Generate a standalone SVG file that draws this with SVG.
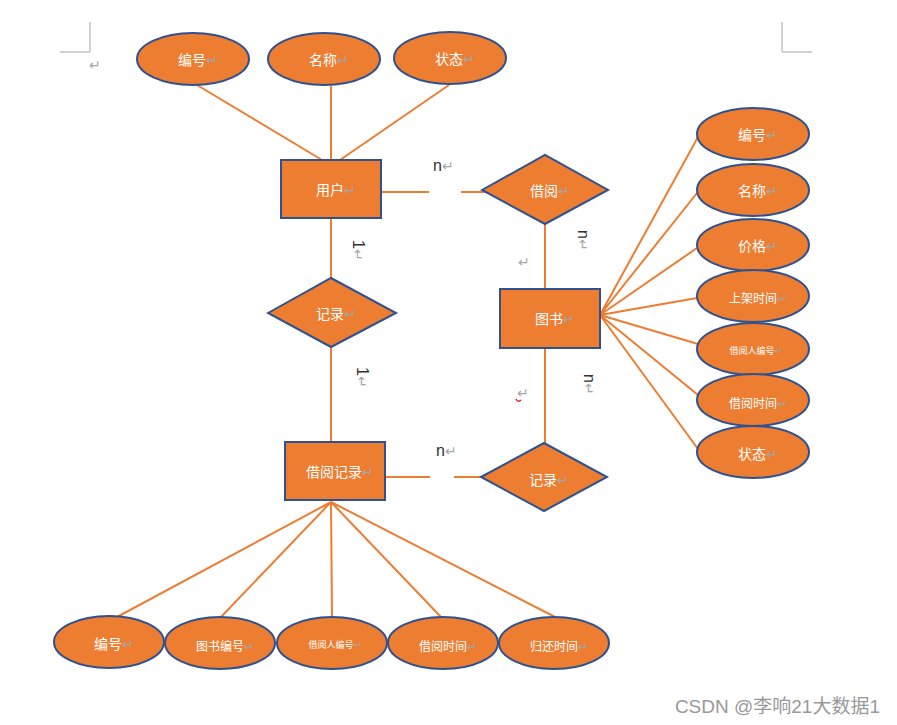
<svg xmlns="http://www.w3.org/2000/svg" width="897" height="725" viewBox="0 0 897 725">
<style>
.ent{fill:#ED7D31;stroke:#2F528F;stroke-width:2}
.t{fill:#fff;font-family:"Noto Sans CJK SC",sans-serif;font-size:14px;text-anchor:middle;dominant-baseline:central}
.s{font-size:12px}
.xs{font-size:9px}
.pm{fill:#a6a6a6}
.lb{fill:#333;font-family:"Liberation Sans","Noto Sans CJK SC",sans-serif;font-size:16px}
.c{stroke:#ED7D31;stroke-width:2;fill:none}
.mk{stroke:#a6a6a6;stroke-width:1;fill:none}
</style>
<rect width="897" height="725" fill="#fff"/>
<g id="page-marks">
<path class="mk" d="M60 52H90V22M782 22V52H812"/>
<text x="95" y="70" class="pm" font-family="Noto Sans CJK SC,sans-serif" font-size="14" text-anchor="middle">↵</text>
<text x="524" y="267" class="pm" font-family="Noto Sans CJK SC,sans-serif" font-size="14" text-anchor="middle">↵</text>
<text x="523" y="398" class="pm" font-family="Noto Sans CJK SC,sans-serif" font-size="14" text-anchor="middle">↵</text>
<path d="M516 399q2 4 5 1" stroke="#e00" stroke-width="1.2" fill="none"/>
</g>
<g id="connectors">
<path class="c" d="M197 85L322 160M331 86V160M449 85L340 160"/>
<path class="c" d="M381 192H429M461 192H487"/>
<path class="c" d="M545 224V289"/>
<path class="c" d="M600 315L698 137M600 315L697 193M600 315L697 248M600 315L697 298M600 315L698 344M600 315L698 395M600 315L698 449"/>
<path class="c" d="M331 218V280M331 347V442"/>
<path class="c" d="M385 477H430M454 477H482"/>
<path class="c" d="M545 348V443"/>
<path class="c" d="M331 502L117 617M331 502L221 617M331 502L332 617M331 502L441 617M331 502L555 617"/>
</g>
<g id="labels">
<text class="lb" x="433" y="171">n<tspan class="pm" font-size="14">↵</tspan></text>
<text class="lb" x="436" y="456">n<tspan class="pm" font-size="14">↵</tspan></text>
<text class="lb" transform="translate(353,240) rotate(90)">1<tspan class="pm" font-size="14">↵</tspan></text>
<text class="lb" transform="translate(357,367) rotate(90)">1<tspan class="pm" font-size="14">↵</tspan></text>
<text class="lb" transform="translate(578,230) rotate(90)">n<tspan class="pm" font-size="14">↵</tspan></text>
<text class="lb" transform="translate(584,374) rotate(90)">n<tspan class="pm" font-size="14">↵</tspan></text>
</g>
<g id="user-bianhao"><ellipse class="ent" cx="193" cy="59" rx="56" ry="26"/><text class="t" x="198" y="59">编号<tspan class="pm">↵</tspan></text></g>
<g id="user-mingcheng"><ellipse class="ent" cx="324" cy="59" rx="56" ry="26"/><text class="t" x="329" y="59">名称<tspan class="pm">↵</tspan></text></g>
<g id="user-zhuangtai"><ellipse class="ent" cx="450" cy="58" rx="56" ry="26"/><text class="t" x="455" y="58">状态<tspan class="pm">↵</tspan></text></g>
<g id="user"><rect class="ent" x="281" y="160" width="100" height="58"/><text class="t" x="336" y="189">用户<tspan class="pm">↵</tspan></text></g>
<g id="jieyue"><polygon class="ent" points="482,190 545,155 608,190 545,224"/><text class="t" x="550" y="190">借阅<tspan class="pm">↵</tspan></text></g>
<g id="book"><rect class="ent" x="500" y="289" width="100" height="59"/><text class="t" x="555" y="318">图书<tspan class="pm">↵</tspan></text></g>
<g id="jilu1"><polygon class="ent" points="268,313 331,278 396,313 331,347"/><text class="t" x="336" y="313">记录<tspan class="pm">↵</tspan></text></g>
<g id="record"><rect class="ent" x="285" y="442" width="100" height="58"/><text class="t" x="340" y="471">借阅记录<tspan class="pm">↵</tspan></text></g>
<g id="jilu2"><polygon class="ent" points="481,477 544,443 607,477 544,511"/><text class="t" x="549" y="479">记录<tspan class="pm">↵</tspan></text></g>
<g id="book-bianhao"><ellipse class="ent" cx="753" cy="134" rx="56" ry="26"/><text class="t" x="758" y="134">编号<tspan class="pm">↵</tspan></text></g>
<g id="book-mingcheng"><ellipse class="ent" cx="753" cy="190" rx="56" ry="26"/><text class="t" x="758" y="190">名称<tspan class="pm">↵</tspan></text></g>
<g id="book-jiage"><ellipse class="ent" cx="753" cy="245" rx="56" ry="26"/><text class="t" x="758" y="245">价格<tspan class="pm">↵</tspan></text></g>
<g id="book-shangjia"><ellipse class="ent" cx="753" cy="296" rx="56" ry="26"/><text class="t s" x="758" y="297">上架时间<tspan class="pm">↵</tspan></text></g>
<g id="book-jieyueren"><ellipse class="ent" cx="753" cy="349" rx="56" ry="26"/><text class="t xs" x="756" y="350">借阅人编号<tspan class="pm">↵</tspan></text></g>
<g id="book-jieyueshijian"><ellipse class="ent" cx="753" cy="400" rx="56" ry="26"/><text class="t s" x="758" y="402">借阅时间<tspan class="pm">↵</tspan></text></g>
<g id="book-zhuangtai"><ellipse class="ent" cx="753" cy="452" rx="56" ry="26"/><text class="t" x="758" y="453">状态<tspan class="pm">↵</tspan></text></g>
<g id="rec-bianhao"><ellipse class="ent" cx="109" cy="642" rx="55" ry="26"/><text class="t" x="114" y="643">编号<tspan class="pm">↵</tspan></text></g>
<g id="rec-tushu"><ellipse class="ent" cx="220" cy="643" rx="55" ry="26"/><text class="t s" x="225" y="645">图书编号<tspan class="pm">↵</tspan></text></g>
<g id="rec-jieyueren"><ellipse class="ent" cx="332" cy="643" rx="55" ry="26"/><text class="t xs" x="335" y="644">借阅人编号<tspan class="pm">↵</tspan></text></g>
<g id="rec-jieyue"><ellipse class="ent" cx="443" cy="643" rx="55" ry="26"/><text class="t s" x="448" y="645">借阅时间<tspan class="pm">↵</tspan></text></g>
<g id="rec-guihuan"><ellipse class="ent" cx="554" cy="643" rx="55" ry="26"/><text class="t s" x="559" y="645">归还时间<tspan class="pm">↵</tspan></text></g>
<text x="880" y="713" fill="#999" font-family="Liberation Sans,Noto Sans CJK SC,sans-serif" font-size="19" text-anchor="end">CSDN @李响21大数据1</text>
</svg>
